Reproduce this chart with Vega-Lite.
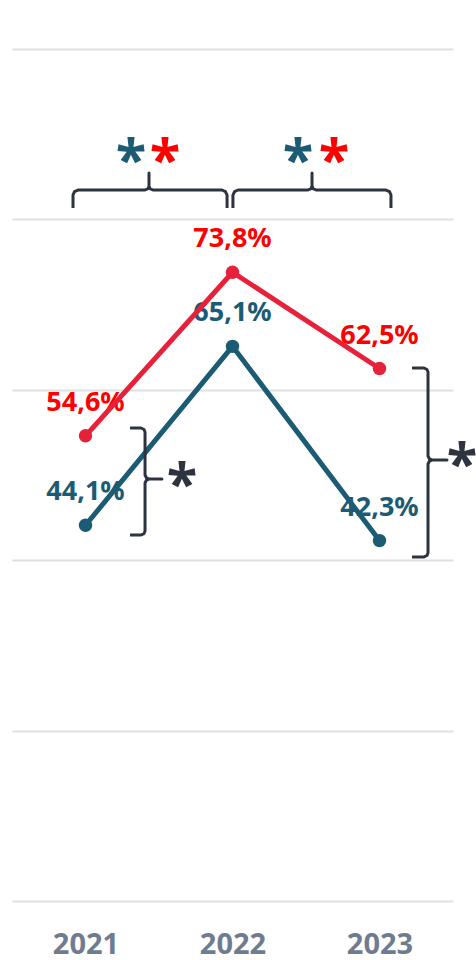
{
  "$schema": "https://vega.github.io/schema/vega-lite/v6.json",
  "width": 441,
  "height": 852,
  "autosize": {"type": "none"},
  "padding": {"left": 12, "top": 49, "right": 23, "bottom": 59},
  "background": "#ffffff",
  "config": {
    "view": {"stroke": null},
    "locale": {"number": {"decimal": ",", "thousands": ".", "grouping": [3], "currency": ["", " €"]}},
    "font": "Noto Sans"
  },
  "datasets": {
    "main": [
      {"year": 2021, "value": 0.546, "series": "s1"},
      {"year": 2022, "value": 0.738, "series": "s1"},
      {"year": 2023, "value": 0.625, "series": "s1"},
      {"year": 2021, "value": 0.441, "series": "s2"},
      {"year": 2022, "value": 0.651, "series": "s2"},
      {"year": 2023, "value": 0.423, "series": "s2"}
    ],
    "brackets": [
      {"b": "top1", "i": 1, "x": 2020.915, "y": 0.8134},
      {"b": "top1", "i": 2, "x": 2020.915, "y": 0.8286},
      {"b": "top1", "i": 3, "x": 2020.925, "y": 0.8327},
      {"b": "top1", "i": 4, "x": 2020.949, "y": 0.8345},
      {"b": "top1", "i": 5, "x": 2021.405, "y": 0.8345},
      {"b": "top1", "i": 6, "x": 2021.425, "y": 0.8362},
      {"b": "top1", "i": 7, "x": 2021.432, "y": 0.8392},
      {"b": "top1", "i": 8, "x": 2021.432, "y": 0.8545},
      {"b": "top1", "i": 9, "x": 2021.432, "y": 0.8392},
      {"b": "top1", "i": 10, "x": 2021.439, "y": 0.8362},
      {"b": "top1", "i": 11, "x": 2021.459, "y": 0.8345},
      {"b": "top1", "i": 12, "x": 2021.929, "y": 0.8345},
      {"b": "top1", "i": 13, "x": 2021.952, "y": 0.8327},
      {"b": "top1", "i": 14, "x": 2021.963, "y": 0.8286},
      {"b": "top1", "i": 15, "x": 2021.963, "y": 0.8134},
      {"b": "top2", "i": 1, "x": 2022.003, "y": 0.8134},
      {"b": "top2", "i": 2, "x": 2022.003, "y": 0.8286},
      {"b": "top2", "i": 3, "x": 2022.014, "y": 0.8327},
      {"b": "top2", "i": 4, "x": 2022.037, "y": 0.8345},
      {"b": "top2", "i": 5, "x": 2022.514, "y": 0.8345},
      {"b": "top2", "i": 6, "x": 2022.534, "y": 0.8362},
      {"b": "top2", "i": 7, "x": 2022.541, "y": 0.8392},
      {"b": "top2", "i": 8, "x": 2022.541, "y": 0.8545},
      {"b": "top2", "i": 9, "x": 2022.541, "y": 0.8392},
      {"b": "top2", "i": 10, "x": 2022.548, "y": 0.8362},
      {"b": "top2", "i": 11, "x": 2022.568, "y": 0.8345},
      {"b": "top2", "i": 12, "x": 2023.044, "y": 0.8345},
      {"b": "top2", "i": 13, "x": 2023.068, "y": 0.8327},
      {"b": "top2", "i": 14, "x": 2023.078, "y": 0.8286},
      {"b": "top2", "i": 15, "x": 2023.078, "y": 0.8134},
      {"b": "left", "i": 1, "x": 2021.303, "y": 0.5552},
      {"b": "left", "i": 2, "x": 2021.378, "y": 0.5552},
      {"b": "left", "i": 3, "x": 2021.398, "y": 0.5534},
      {"b": "left", "i": 4, "x": 2021.405, "y": 0.5505},
      {"b": "left", "i": 5, "x": 2021.405, "y": 0.5},
      {"b": "left", "i": 6, "x": 2021.415, "y": 0.4965},
      {"b": "left", "i": 7, "x": 2021.432, "y": 0.4953},
      {"b": "left", "i": 8, "x": 2021.52, "y": 0.4953},
      {"b": "left", "i": 9, "x": 2021.432, "y": 0.4953},
      {"b": "left", "i": 10, "x": 2021.415, "y": 0.4941},
      {"b": "left", "i": 11, "x": 2021.405, "y": 0.4906},
      {"b": "left", "i": 12, "x": 2021.405, "y": 0.4343},
      {"b": "left", "i": 13, "x": 2021.398, "y": 0.4313},
      {"b": "left", "i": 14, "x": 2021.378, "y": 0.4296},
      {"b": "left", "i": 15, "x": 2021.303, "y": 0.4296},
      {"b": "right", "i": 1, "x": 2023.221, "y": 0.6256},
      {"b": "right", "i": 2, "x": 2023.303, "y": 0.6256},
      {"b": "right", "i": 3, "x": 2023.323, "y": 0.6238},
      {"b": "right", "i": 4, "x": 2023.33, "y": 0.6209},
      {"b": "right", "i": 5, "x": 2023.33, "y": 0.5223},
      {"b": "right", "i": 6, "x": 2023.34, "y": 0.5188},
      {"b": "right", "i": 7, "x": 2023.357, "y": 0.5176},
      {"b": "right", "i": 8, "x": 2023.459, "y": 0.5176},
      {"b": "right", "i": 9, "x": 2023.357, "y": 0.5176},
      {"b": "right", "i": 10, "x": 2023.34, "y": 0.5164},
      {"b": "right", "i": 11, "x": 2023.33, "y": 0.5129},
      {"b": "right", "i": 12, "x": 2023.33, "y": 0.4085},
      {"b": "right", "i": 13, "x": 2023.323, "y": 0.4055},
      {"b": "right", "i": 14, "x": 2023.303, "y": 0.4038},
      {"b": "right", "i": 15, "x": 2023.221, "y": 0.4038}
    ],
    "stars": [
      {"x": 2021.31, "y": 0.877, "series": "s2"},
      {"x": 2021.541, "y": 0.877, "series": "s1"},
      {"x": 2022.446, "y": 0.877, "series": "s2"},
      {"x": 2022.69, "y": 0.877, "series": "s1"},
      {"x": 2021.656, "y": 0.4965, "series": "both"},
      {"x": 2023.561, "y": 0.52, "series": "both"}
    ]
  },
  "layer": [
    {
      "data": {"name": "main"},
      "mark": {"type": "text", "fontWeight": "bold", "fontSize": 27, "baseline": "alphabetic", "align": "center", "dy": -25},
      "encoding": {
        "x": {"field": "year", "type": "quantitative", "scale": {"domain": [2020.5, 2023.5], "nice": false, "zero": false},
          "axis": {"values": [2021, 2022, 2023], "format": "d", "title": null, "grid": false, "ticks": false, "domain": false,
            "labelFontSize": 29, "labelFontWeight": "bold", "labelColor": "#6e7b91", "labelBaseline": "alphabetic", "labelPadding": 52, "labelFont": "Noto Sans"}},
        "y": {"field": "value", "type": "quantitative", "scale": {"domain": [0, 1], "nice": false, "zero": true},
          "axis": {"values": [0, 0.2, 0.4, 0.6, 0.8, 1], "title": null, "labels": false, "ticks": false, "domain": false, "grid": true, "gridColor": "#dfe0e3", "gridWidth": 2}},
        "text": {"field": "value", "type": "quantitative", "format": ".1%"},
        "color": {"condition": {"test": "datum.series === 's1'", "value": "#ff0000"}, "value": "#1b5b73"}
      }
    },
    {
      "data": {"name": "main"},
      "mark": {"type": "line", "strokeWidth": 5},
      "encoding": {
        "x": {"field": "year", "type": "quantitative"},
        "y": {"field": "value", "type": "quantitative"},
        "color": {"field": "series", "type": "nominal", "scale": {"domain": ["s1", "s2"], "range": ["#e8213a", "#1b5b73"]}, "legend": null}
      }
    },
    {
      "data": {"name": "main"},
      "mark": {"type": "circle", "size": 180, "opacity": 1},
      "encoding": {
        "x": {"field": "year", "type": "quantitative"},
        "y": {"field": "value", "type": "quantitative"},
        "color": {"field": "series", "type": "nominal", "legend": null}
      }
    },
    {
      "data": {"name": "brackets"},
      "mark": {"type": "line", "strokeWidth": 3, "color": "#2d3440", "strokeJoin": "round"},
      "encoding": {
        "x": {"field": "x", "type": "quantitative"},
        "y": {"field": "y", "type": "quantitative"},
        "detail": {"field": "b", "type": "nominal"},
        "order": {"field": "i", "type": "quantitative"}
      }
    },
    {
      "data": {"name": "stars"},
      "mark": {"type": "text", "text": "*", "font": "Open Sans", "fontWeight": "bold", "fontSize": 56, "baseline": "middle", "align": "center", "dy": 8},
      "encoding": {
        "x": {"field": "x", "type": "quantitative"},
        "y": {"field": "y", "type": "quantitative"},
        "color": {"condition": [{"test": "datum.series === 's1'", "value": "#ff0000"}, {"test": "datum.series === 's2'", "value": "#1b5b73"}], "value": "#2d3440"}
      }
    }
  ]
}
